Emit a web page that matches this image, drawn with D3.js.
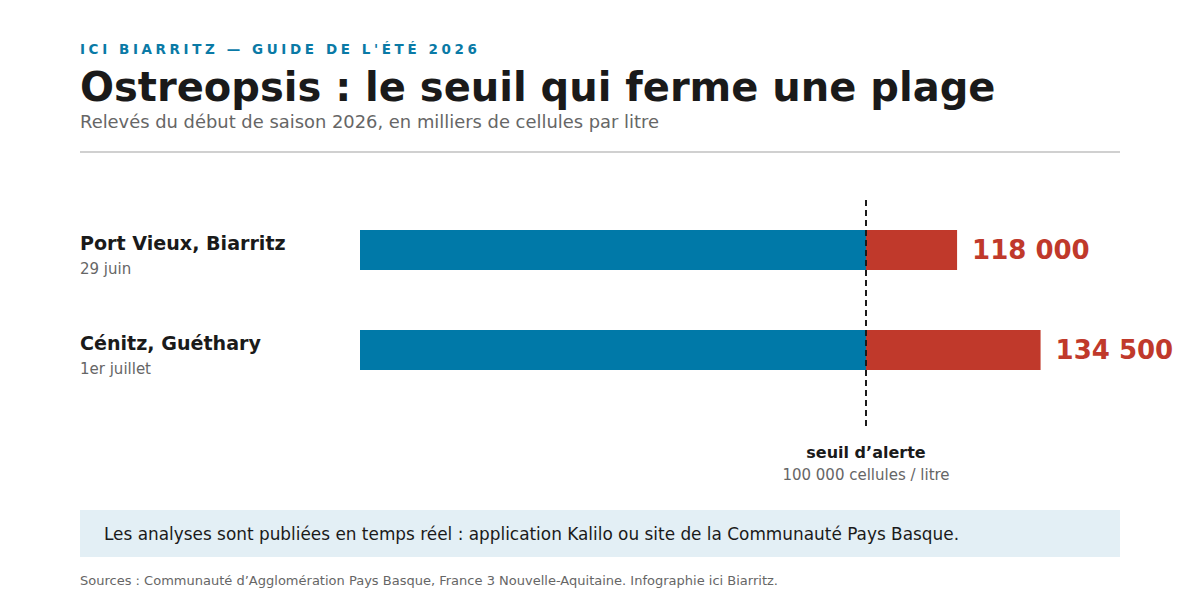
<!DOCTYPE html>
<html><head><meta charset="utf-8">
<script src="https://cdn.jsdelivr.net/npm/d3@7"></script>
<style>body{margin:0;background:#fff}svg{display:block}text{font-family:"DejaVu Sans",sans-serif}</style>
</head><body>
<script>
const sites = ["Port Vieux, Biarritz", "Cénitz, Guéthary"];
const dates = ["29 juin", "1er juillet"];
const values = [118000, 134500];
const valueLabels = ["118 000", "134 500"];
const threshold = 100000;

const W = 1200, H = 600;
const svg = d3.select("body").append("svg").attr("width", W).attr("height", H);

const x = d3.scaleLinear().domain([0, 100000]).range([360, 866]);
const y = d3.scaleBand().domain(sites).range([200, 400]).paddingInner(0.6).paddingOuter(0.3);

svg.append("text").attr("x", 80).attr("y", 54).attr("fill", "#0a7aa6")
  .attr("font-size", 13.5).attr("font-weight", "bold").attr("letter-spacing", 3.6)
  .text("ICI BIARRITZ — GUIDE DE L'ÉTÉ 2026");
svg.append("text").attr("x", 80).attr("y", 101).attr("fill", "#1a1a1a")
  .attr("font-size", 40).attr("font-weight", "bold")
  .text("Ostreopsis : le seuil qui ferme une plage");
svg.append("text").attr("x", 80).attr("y", 128).attr("fill", "#666")
  .attr("font-size", 17.9).text("Relevés du début de saison 2026, en milliers de cellules par litre");
svg.append("line").attr("x1", 80).attr("x2", 1120).attr("y1", 152).attr("y2", 152)
  .attr("stroke", "#d0d0d0").attr("stroke-width", 2);

const rows = svg.selectAll("g.row").data(sites).join("g").attr("class", "row");
rows.append("rect").attr("x", x(0)).attr("y", d => y(d)).attr("height", y.bandwidth())
  .attr("width", x(threshold) - x(0)).attr("fill", "#0079a8");
rows.append("rect").attr("x", x(threshold)).attr("y", d => y(d)).attr("height", y.bandwidth())
  .attr("width", (d, i) => x(values[i]) - x(threshold)).attr("fill", "#c0392b");
rows.append("text").attr("x", (d, i) => x(values[i]) + 15).attr("y", d => y(d) + y.bandwidth() / 2 + 9)
  .attr("fill", "#c0392b").attr("font-size", 26).attr("font-weight", "bold")
  .text((d, i) => valueLabels[i]);
rows.append("text").attr("x", 80).attr("y", d => y(d) + 20).attr("fill", "#1a1a1a")
  .attr("font-size", 19.1).attr("font-weight", "bold").text(d => d);
rows.append("text").attr("x", 80).attr("y", d => y(d) + 44).attr("fill", "#666")
  .attr("font-size", 15).text((d, i) => dates[i]);

svg.append("line").attr("x1", x(threshold)).attr("x2", x(threshold)).attr("y1", 200).attr("y2", 430)
  .attr("stroke", "#1a1a1a").attr("stroke-width", 2).attr("stroke-dasharray", "6,4");
svg.append("text").attr("x", x(threshold)).attr("y", 458).attr("text-anchor", "middle")
  .attr("fill", "#1a1a1a").attr("font-size", 16).attr("font-weight", "bold").text("seuil d’alerte");
svg.append("text").attr("x", x(threshold)).attr("y", 480).attr("text-anchor", "middle")
  .attr("fill", "#666").attr("font-size", 15).text("100 000 cellules / litre");

svg.append("rect").attr("x", 80).attr("y", 510).attr("width", 1040).attr("height", 47).attr("fill", "#e3eff5");
svg.append("text").attr("x", 104).attr("y", 540).attr("fill", "#1a1a1a").attr("font-size", 18)
  .attr("textLength", 855).attr("lengthAdjust", "spacingAndGlyphs")
  .text("Les analyses sont publiées en temps réel : application Kalilo ou site de la Communauté Pays Basque.");
svg.append("text").attr("x", 80).attr("y", 585).attr("fill", "#666").attr("font-size", 12.5)
  .attr("textLength", 698).attr("lengthAdjust", "spacingAndGlyphs")
  .text("Sources : Communauté d’Agglomération Pays Basque, France 3 Nouvelle-Aquitaine. Infographie ici Biarritz.");
</script>
</body></html>
